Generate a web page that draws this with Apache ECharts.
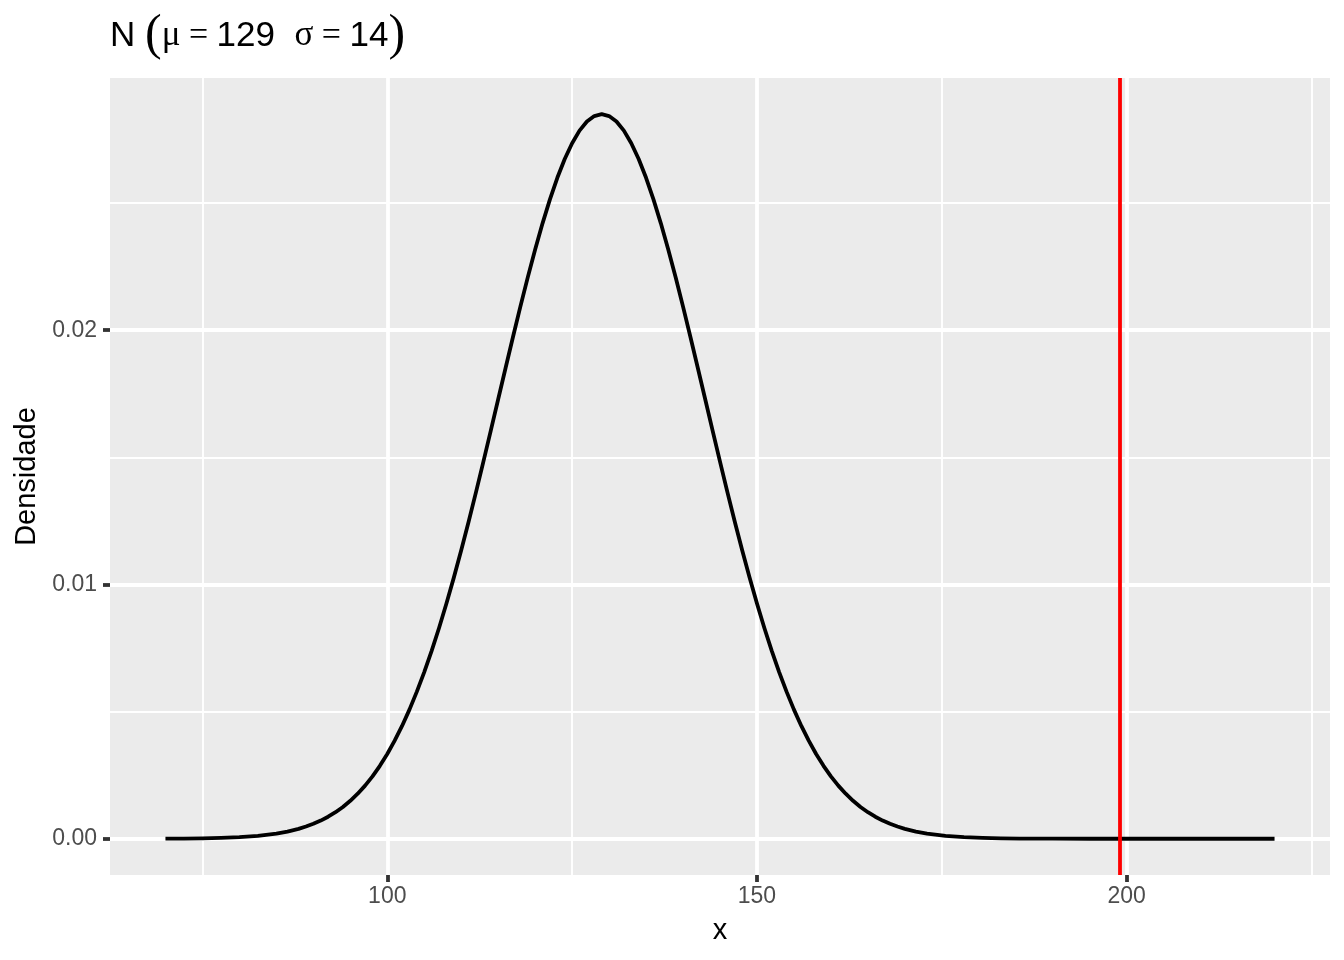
<!DOCTYPE html>
<html>
<head>
<meta charset="utf-8">
<script src="https://cdn.jsdelivr.net/npm/echarts@6/dist/echarts.min.js"></script>
<style>html,body{margin:0;padding:0;background:#fff}#c{width:1344px;height:960px}</style>
</head>
<body>
<div id="c"></div>
<script>
// values
const xValues = [70,72.5,75,77.5,80,82.5,85,86.5,
  88,89,90,91,92,93,94,95,96,97,98,99,100,101,102,103,104,105,106,107,108,109,110,111,112,113,114,115,116,117,118,119,120,121,122,123,124,125,126,127,128,
  129,
  130,131,132,133,134,135,136,137,138,139,140,141,142,143,144,145,146,147,148,149,150,151,152,153,154,155,156,157,158,159,160,161,162,163,164,165,166,167,168,169,170,
  171.5,173,175.5,178,180.5,183,185.5,188,190,195,200,205,210,215,220];
const densityValues = [0.0000040,0.0000083,0.0000168,0.0000328,0.0000623,0.0001146,0.000204,0.000284,
  0.000391,0.000481,0.000588,0.000716,0.000867,0.001045,0.001252,0.001493,0.001771,0.002091,0.002455,0.002869,0.003335,0.003857,0.004437,0.005080,0.005786,0.006556,0.007391,0.008290,0.009251,0.010271,0.011346,0.012469,0.013633,0.014831,0.016051,0.017284,0.018516,0.019735,0.020928,0.022080,0.023176,0.024204,0.025148,0.025996,0.026735,0.027356,0.027849,0.028207,0.028423,
  0.028496,
  0.028423,0.028207,0.027849,0.027356,0.026735,0.025996,0.025148,0.024204,0.023176,0.022080,0.020928,0.019735,0.018516,0.017284,0.016051,0.014831,0.013633,0.012469,0.011346,0.010271,0.009251,0.008290,0.007391,0.006556,0.005786,0.005080,0.004437,0.003857,0.003335,0.002869,0.002455,0.002091,0.001771,0.001493,0.001252,0.001045,0.000867,0.000716,0.000588,0.000481,0.000391,
  0.000284,0.000204,0.0001146,0.0000623,0.0000328,0.0000168,0.0000083,0.0000040,0.0000021,0.0000004,0.0000001,0,0,0,0];
const cutoffX = [199];
const xMajorTicks = [100,150,200];
const xMinorTicks = [75,125,175,225];
const yMajorTicks = [0,0.01,0.02];
const yMinorTicks = [0.005,0.015,0.025];
const titleParts = {name:'N', mu:'μ', muValue:'129', sigma:'σ', sigmaValue:'14'};
const yTitle = 'Densidade';
const xTitle = 'x';

const curve = xValues.map((x,i)=>[x, densityValues[i]]);
const X_MIN = 62.5, X_MAX = 227.5, Y_MIN = -0.001425, Y_MAX = 0.02992;
const SANS = '"Liberation Sans", Arial, sans-serif';
const SERIF = '"Liberation Serif", "Times New Roman", serif';

const chart = echarts.init(document.getElementById('c'), null, {renderer:'canvas'});
chart.setOption({
  animation:false,
  backgroundColor:'#FFFFFF',
  title:{
    left:110, top:11, padding:0,
    text:'{n|'+titleParts.name+' }{p|(}{g|'+titleParts.mu+'}{e| = }{n|'+titleParts.muValue+'  }{g|'+titleParts.sigma+'}{e| = }{n|'+titleParts.sigmaValue+'}{p|)}',
    textStyle:{
      fontWeight:'normal',
      rich:{
        n:{fontFamily:SANS, fontSize:35, fontWeight:'normal', color:'#000', lineHeight:50},
        p:{fontFamily:SERIF, fontSize:50, fontWeight:'normal', color:'#000', lineHeight:50},
        g:{fontFamily:SERIF, fontSize:35, fontWeight:'normal', color:'#000', lineHeight:50},
        e:{fontFamily:SERIF, fontSize:34, fontWeight:'normal', color:'#000', lineHeight:50}
      }
    }
  },
  grid:{left:110, right:14, top:78, bottom:85, show:true, backgroundColor:'#EBEBEB', borderWidth:0, containLabel:false},
  xAxis:[{
    type:'value', min:X_MIN, max:X_MAX,
    name:xTitle, nameLocation:'middle', nameGap:41,
    nameTextStyle:{fontFamily:SANS, fontSize:29, color:'#000'},
    axisLine:{show:false, onZero:false},
    axisTick:{show:true, length:7, customValues:xMajorTicks, lineStyle:{color:'#333333', width:3.8}},
    axisLabel:{show:true, margin:10, customValues:xMajorTicks, fontFamily:SANS, fontSize:23, color:'#4D4D4D', formatter:v=>String(v)},
    splitLine:{show:true, lineStyle:{color:'#FFFFFF', width:3.8}},
    z:2
  },{
    type:'value', min:X_MIN, max:X_MAX, position:'top',
    axisLine:{show:false, onZero:false},
    axisTick:{show:false, customValues:xMinorTicks},
    axisLabel:{show:false, customValues:xMinorTicks},
    splitLine:{show:true, lineStyle:{color:'#FFFFFF', width:1.9}},
    z:1
  }],
  yAxis:[{
    type:'value', min:Y_MIN, max:Y_MAX,
    name:yTitle, nameLocation:'middle', nameGap:67, nameRotate:90,
    nameTextStyle:{fontFamily:SANS, fontSize:29, color:'#000'},
    axisLine:{show:false, onZero:false},
    axisTick:{show:true, length:7, customValues:yMajorTicks, lineStyle:{color:'#333333', width:3.8}},
    axisLabel:{show:true, margin:13, customValues:yMajorTicks, fontFamily:SANS, fontSize:23, color:'#4D4D4D', formatter:v=>Number(v).toFixed(2)},
    splitLine:{show:true, lineStyle:{color:'#FFFFFF', width:3.8}},
    z:2
  },{
    type:'value', min:Y_MIN, max:Y_MAX, position:'right',
    axisLine:{show:false, onZero:false},
    axisTick:{show:false, customValues:yMinorTicks},
    axisLabel:{show:false, customValues:yMinorTicks},
    splitLine:{show:true, lineStyle:{color:'#FFFFFF', width:1.9}},
    z:1
  }],
  series:[{
    type:'line', xAxisIndex:0, yAxisIndex:0,
    data:curve, showSymbol:false, symbol:'none',
    smooth:false,
    lineStyle:{color:'#000000', width:3.8, join:'round'},
    silent:true, z:3
  },{
    type:'line', xAxisIndex:0, yAxisIndex:0, data:[], z:4, silent:true,
    markLine:{
      silent:true, symbol:['none','none'], label:{show:false},
      lineStyle:{color:'#FF0000', width:3.8, type:'solid'},
      data:cutoffX.map(v=>({xAxis:v}))
    }
  }]
});
</script>
</body>
</html>
